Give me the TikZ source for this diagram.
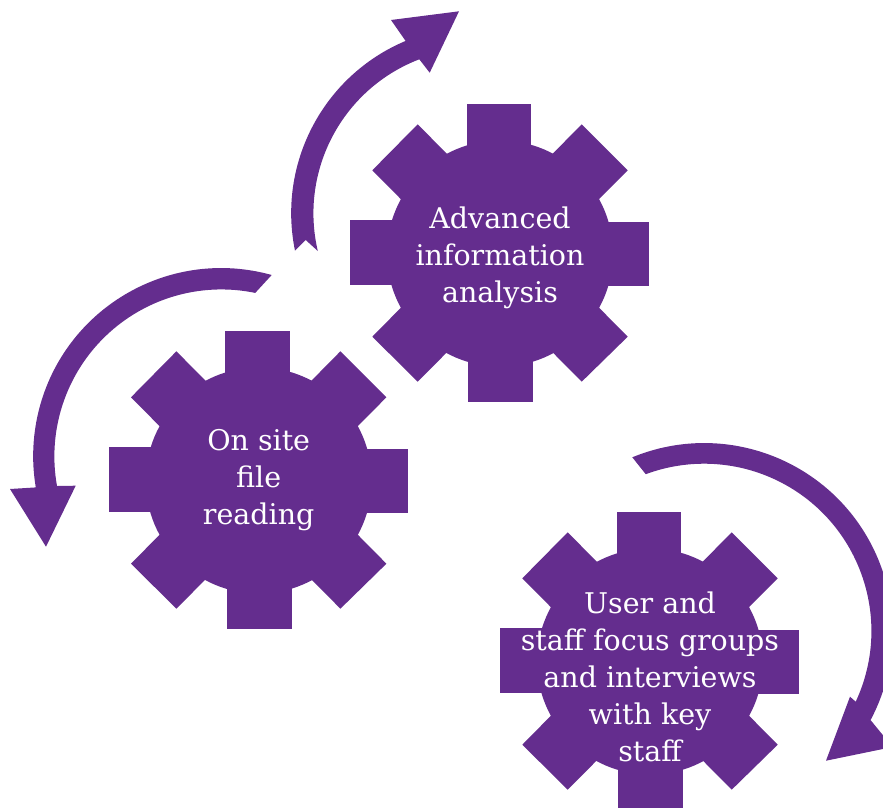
\documentclass[tikz,border=0pt]{standalone}
\usepackage{fontspec}
\setmainfont{DejaVu Serif}
\definecolor{gearpurple}{RGB}{100,45,142}
\tikzset{
  gearfill/.style={fill=gearpurple,draw=none},
  geartext/.style={text=white,align=center,inner sep=0pt,font=\fontsize{28.5}{37}\selectfont},
  gearshape/.pic={
    \fill[gearfill] (0,-0.5) circle[radius=113];
    \fill[gearfill] (-33.3,-150) rectangle (31.3,0);
    \fill[gearfill] (-31.7,0) rectangle (33,148.3);
    \fill[gearfill] (-149.7,-34) rectangle (0,31);
    \fill[gearfill] (0,-32.3) rectangle (149.3,32.3);
    \fill[gearfill] (-82.3,-129.7) -- (-127.7,-83.7) -- (81.7,127.7) -- (127.7,82.7) -- cycle;
    \fill[gearfill] (81.7,-129.7) -- (127.7,-83.7) -- (-82.3,127.7) -- (-127.7,82.7) -- cycle;
  }
}
\begin{document}
\begin{tikzpicture}[x=1pt,y=1pt,yscale=-1]
\useasboundingbox (0,0) rectangle (883,808);
\clip (0,0) rectangle (883,808);
% gears
\pic[transform shape] at (500,254) {gearshape};
\pic[transform shape] at (258.7,481) {gearshape};
\pic[transform shape] at (650,662) {gearshape};
\node[geartext] (adv) at (500,258) {Advanced\\information\\analysis};
\node[geartext] (site) at (258.7,480) {On site\\file\\reading};
\node[geartext] (user) at (650,677) {User and\\staff focus groups\\and interviews\\with key\\staff};
% arrow top
\fill[gearfill] (295,250.7)
  arc[start angle=168.4,end angle=247.2,radius=186.8]
  -- (391,20) -- (459,11.3) -- (429.7,72.7) -- (419.3,59.3)
  arc[start angle=249,end angle=166.8,radius=165]
  -- (305.7,240) -- cycle;
% arrow left
\fill[gearfill] (271.7,275)
  arc[start angle=285.6,end angle=170.4,radius=188]
  -- (10,489) -- (46,546.7) -- (75.7,485.7) -- (57,486)
  arc[start angle=169.8,end angle=281.7,radius=167]
  -- cycle;
% arrow right
\fill[gearfill] (632.3,457.3)
  arc[start angle=247.6,end angle=388,radius=188.5]
  -- (892.6,747) -- (826,760.7) -- (850,696.7) -- (855.7,701.7)
  arc[start angle=25,end angle=-110.4,radius=167.3]
  -- cycle;
\end{tikzpicture}
\end{document}
